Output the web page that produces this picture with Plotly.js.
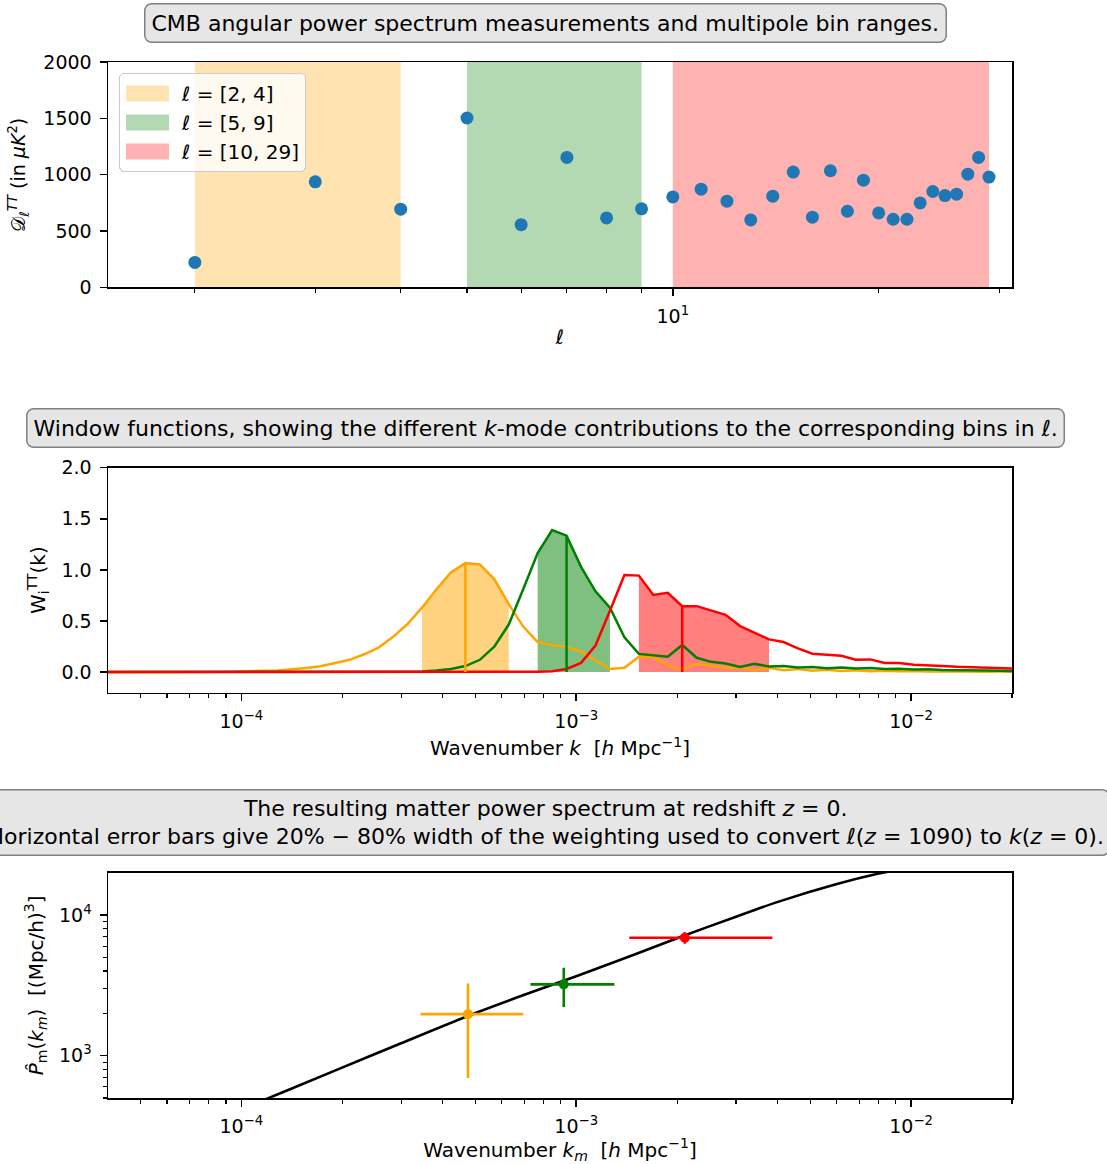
<!DOCTYPE html>
<html>
<head>
<meta charset="utf-8">
<script src="https://cdn.plot.ly/plotly-3.0.1.min.js"></script>
<style>
  html, body { margin: 0; padding: 0; background: #ffffff; }
  #chart { width: 1107px; height: 1164px; }
</style>
</head>
<body>
<div id="chart"></div>
<script>
// ---------- Panel 1: CMB angular power spectrum ----------
const ell = [2,3,4,5,6,7,8,9,10,11,12,13,14,15,16,17,18,19,20,21,22,23,24,25,26,27,28,29];
const DlTT = [222,937,694,1503,557,1153,617,697,803,872,765,599,810,1023,623,1035,676,952,661,605,605,750,851,815,827,1005,1153,979];
const binLo = [2, 5, 10];
const binHi = [4, 9, 29];
const binNames = ['<i>ℓ</i> = [2, 4]', '<i>ℓ</i> = [5, 9]', '<i>ℓ</i> = [10, 29]'];
const binSpanColors = ['rgba(255,165,0,0.3)', 'rgba(0,128,0,0.3)', 'rgba(255,0,0,0.3)'];
const DlRange = [0, 2000];
const DlTicks = [0, 500, 1000, 1500, 2000];

// ---------- Panel 2: window functions ----------
const kGrid = [3.5e-5, 6.4e-5, 9.5e-5, 1.282e-4, 1.416e-4, 1.564e-4, 1.7274e-4, 1.9079e-4, 2.1073e-4,
  2.3275e-4, 2.5707e-4, 2.8393e-4, 3.136e-4, 3.4637e-4, 3.8257e-4, 4.2254e-4, 4.667e-4, 5.155e-4,
  5.693e-4, 6.288e-4, 6.945e-4, 7.671e-4, 8.473e-4, 9.358e-4, 1.0336e-3, 1.1416e-3, 1.2609e-3,
  1.3927e-3, 1.5382e-3, 1.6989e-3, 1.8765e-3, 2.0726e-3, 2.2892e-3, 2.5284e-3, 2.7926e-3, 3.0844e-3,
  3.4068e-3, 3.7628e-3, 4.156e-3, 4.5903e-3, 5.07e-3, 5.5998e-3, 6.185e-3, 6.8314e-3, 7.5453e-3,
  8.3338e-3, 9.2047e-3, 1.0167e-2, 1.1229e-2, 1.2403e-2, 1.3699e-2, 1.513e-2, 1.6711e-2, 1.8458e-2, 2.0387e-2];
const wBin1 = [0, 0, 0.004, 0.016, 0.026, 0.040, 0.058, 0.087, 0.12, 0.174, 0.24, 0.345, 0.47, 0.63, 0.81,
  0.975, 1.066, 1.052, 0.91, 0.665, 0.445, 0.294, 0.263, 0.248, 0.20, 0.115, 0.03, 0.042, 0.15, 0.144,
  0.065, 0.026, 0.083, 0.06, 0.04, 0.045, 0.015, 0.042, 0.017, 0.03, 0.012, 0.022, 0.01, 0.018, 0.008,
  0.014, 0.007, 0.011, 0.006, 0.009, 0.005, 0.007, 0.004, 0.005, 0.004];
const wBin2 = [0, 0, 0, 0, 0, 0, 0, 0, 0, 0, 0, 0.001, 0.003, 0.006, 0.015, 0.03, 0.059, 0.12, 0.248,
  0.465, 0.81, 1.165, 1.39, 1.335, 1.03, 0.79, 0.63, 0.34, 0.178, 0.167, 0.15, 0.265, 0.14, 0.10, 0.083,
  0.05, 0.08, 0.055, 0.06, 0.045, 0.05, 0.038, 0.045, 0.035, 0.04, 0.03, 0.033, 0.025, 0.027, 0.02,
  0.02, 0.016, 0.015, 0.012, 0.011];
const wBin3 = [0, 0, 0, 0, 0, 0, 0, 0, 0, 0, 0, 0, 0, 0, 0, 0, 0, 0, 0, 0, 0, 0.003, 0.008, 0.03, 0.09,
  0.26, 0.6, 0.95, 0.944, 0.755, 0.775, 0.644, 0.645, 0.6, 0.56, 0.45, 0.385, 0.32, 0.294, 0.232, 0.18,
  0.17, 0.16, 0.12, 0.124, 0.088, 0.088, 0.072, 0.068, 0.06, 0.052, 0.047, 0.042, 0.038, 0.035];
const kMedian = [4.667e-4, 9.358e-4, 2.0726e-3];
const fillLo = [3.4e-4, 7.6e-4, 1.53e-3];
const fillHi = [6.3e-4, 1.27e-3, 3.77e-3];
const binLineColors = ['#FFA500', '#008000', '#FF0000'];
const binFillColors = ['rgba(255,165,0,0.5)', 'rgba(0,128,0,0.5)', 'rgba(255,0,0,0.5)'];

// ---------- Panel 3: matter power spectrum ----------
const kCurve = [4e-5, 1e-4, 2e-4, 3e-4, 5e-4, 7e-4, 1e-3, 1.5e-3, 2e-3, 3e-3, 4e-3, 6e-3, 8e-3, 1e-2, 1.5e-2, 2e-2];
const PCurve = [168, 415, 822, 1225, 2010, 2710, 3673, 5260, 6840, 9730, 12400, 16600, 19700, 21900, 25300, 27000];
const kPoint = [4.75e-4, 9.18e-4, 2.11e-3];
const PPoint = [1973, 3214, 6887];
const kErrLo = [3.43e-4, 7.3e-4, 1.44e-3];
const kErrHi = [6.95e-4, 1.30e-3, 3.85e-3];
const PErr = [1280, 1000, 650];

const kTickVals = [1e-4, 1e-3, 1e-2];
const kTickText = ['10<sup>−4</sup>', '10<sup>−3</sup>', '10<sup>−2</sup>'];
const kMinor = [5e-5,6e-5,7e-5,8e-5,9e-5,2e-4,3e-4,4e-4,5e-4,6e-4,7e-4,8e-4,9e-4,2e-3,3e-3,4e-3,5e-3,6e-3,7e-3,8e-3,9e-3,2e-2];
const PTickVals = [1000, 10000];
const PTickText = ['10<sup>3</sup>', '10<sup>4</sup>'];
const PMinor = [500,600,700,800,900,2000,3000,4000,5000,6000,7000,8000,9000];

// ---------- traces ----------
const FONT = 'DejaVu Sans, Verdana, sans-serif';
const data = [];

// Panel 1 spans (legend entries)
for (let i = 0; i < binLo.length; i++) {
  data.push({
    type: 'scatter', mode: 'none', xaxis: 'x', yaxis: 'y',
    x: [binLo[i], binHi[i], binHi[i], binLo[i], binLo[i]],
    y: [DlRange[0], DlRange[0], DlRange[1], DlRange[1], DlRange[0]],
    fill: 'toself', fillcolor: binSpanColors[i], line: {width: 0},
    name: binNames[i], showlegend: true, hoverinfo: 'skip'
  });
}
data.push({
  type: 'scatter', mode: 'markers', xaxis: 'x', yaxis: 'y',
  x: ell, y: DlTT, marker: {color: '#1f77b4', size: 13}, showlegend: false
});

// Panel 2 fills
const wBins = [wBin1, wBin2, wBin3];
for (let i = 0; i < 3; i++) {
  const fx = [], fy = [];
  kGrid.forEach((k, j) => { if (k >= fillLo[i] && k <= fillHi[i]) { fx.push(k); fy.push(wBins[i][j]); } });
  data.push({
    type: 'scatter', mode: 'none', xaxis: 'x2', yaxis: 'y2',
    x: fx, y: fy, fill: 'tozeroy', fillcolor: binFillColors[i], line: {width: 0},
    showlegend: false, hoverinfo: 'skip'
  });
}
// Panel 2 curves
for (let i = 0; i < 3; i++) {
  data.push({
    type: 'scatter', mode: 'lines', xaxis: 'x2', yaxis: 'y2',
    x: kGrid, y: wBins[i], line: {color: binLineColors[i], width: 2.5}, showlegend: false
  });
}
// Panel 2 median lines
for (let i = 0; i < 3; i++) {
  let best = 0;
  kGrid.forEach((k, j) => { if (Math.abs(Math.log(k / kMedian[i])) < Math.abs(Math.log(kGrid[best] / kMedian[i]))) best = j; });
  data.push({
    type: 'scatter', mode: 'lines', xaxis: 'x2', yaxis: 'y2',
    x: [kMedian[i], kMedian[i]], y: [0, wBins[i][best]],
    line: {color: binLineColors[i], width: 2.5}, showlegend: false
  });
}

// Panel 3 curve
data.push({
  type: 'scatter', mode: 'lines', xaxis: 'x3', yaxis: 'y3',
  x: kCurve, y: PCurve, line: {color: '#000000', width: 2.6, shape: 'spline', smoothing: 0.8}, showlegend: false
});
// Panel 3 points
for (let i = 0; i < 3; i++) {
  data.push({
    type: 'scatter', mode: 'markers', xaxis: 'x3', yaxis: 'y3',
    x: [kPoint[i]], y: [PPoint[i]],
    marker: {color: binLineColors[i], size: 10},
    error_x: {type: 'data', symmetric: false, array: [kErrHi[i] - kPoint[i]], arrayminus: [kPoint[i] - kErrLo[i]],
      color: binLineColors[i], thickness: 2.6, width: 0},
    error_y: {type: 'data', symmetric: true, array: [PErr[i]], color: binLineColors[i], thickness: 2.6, width: 0},
    showlegend: false
  });
}

// ---------- layout ----------
const axisBase = {
  showline: true, mirror: true, linecolor: '#000000', linewidth: 1.5,
  showgrid: false, zeroline: false,
  ticks: 'outside', ticklen: 7, tickwidth: 1.5, tickcolor: '#000000',
  ticklabelstandoff: 4,
  tickfont: {family: FONT, size: 19, color: '#000000'}
};
const minorBase = {ticks: 'outside', ticklen: 4, tickwidth: 1.1, tickcolor: '#000000', tickmode: 'array'};
function ax(extra) { return Object.assign({}, axisBase, extra); }

const layout = {
  width: 1107, height: 1164,
  margin: {l: 108, r: 95, t: 62, b: 66},
  paper_bgcolor: '#ffffff', plot_bgcolor: '#ffffff',
  font: {family: FONT, color: '#000000'},
  showlegend: true,
  legend: {
    x: 0.0122, y: 0.9894, xanchor: 'left', yanchor: 'top',
    bgcolor: 'rgba(255,255,255,0.8)', bordercolor: '#cccccc', borderwidth: 1,
    font: {family: FONT, size: 20, color: '#000000'}, itemwidth: 52, tracegroupgap: 0
  },
  xaxis: ax({
    anchor: 'y', domain: [0, 1], type: 'log', range: [0.174, 1.496],
    tickmode: 'array', tickvals: [10], ticktext: ['10<sup>1</sup>'],
    minor: Object.assign({tickvals: [2,3,4,5,6,7,8,9,20,30]}, minorBase),
    title: {text: '<i>ℓ</i>', font: {family: FONT, size: 20}, standoff: 4}
  }),
  yaxis: ax({
    anchor: 'x', domain: [0.7824, 1], range: DlRange,
    tickmode: 'array', tickvals: DlTicks,
    title: {text: '𝒟<sub><i>ℓ</i></sub><sup><i>TT</i></sup> (in <i>μK</i><sup>2</sup>)', font: {family: FONT, size: 19}, standoff: 12}
  }),
  xaxis2: ax({
    anchor: 'y2', domain: [0, 1], type: 'log', range: [Math.log10(4e-5), Math.log10(2e-2)],
    tickmode: 'array', tickvals: kTickVals, ticktext: kTickText,
    minor: Object.assign({tickvals: kMinor}, minorBase),
    title: {text: 'Wavenumber <i>k</i>  [<i>h</i> Mpc<sup>−1</sup>]', font: {family: FONT, size: 20}, standoff: 10}
  }),
  yaxis2: ax({
    anchor: 'x2', domain: [0.3914, 0.6084], range: [-0.2, 2.0],
    tickmode: 'array', tickvals: [0, 0.5, 1, 1.5, 2], tickformat: '.1f',
    title: {text: 'W<sub>i</sub><sup>TT</sup>(k)', font: {family: FONT, size: 20}, standoff: 10}
  }),
  xaxis3: ax({
    anchor: 'y3', domain: [0, 1], type: 'log', range: [Math.log10(4e-5), Math.log10(2e-2)],
    tickmode: 'array', tickvals: kTickVals, ticktext: kTickText,
    minor: Object.assign({tickvals: kMinor}, minorBase),
    title: {text: 'Wavenumber <i>k<sub>m</sub></i>  [<i>h</i> Mpc<sup>−1</sup>]', font: {family: FONT, size: 20}, standoff: 10}
  }),
  yaxis3: ax({
    anchor: 'x3', domain: [0, 0.2175], type: 'log', range: [Math.log10(500), Math.log10(20000)],
    tickmode: 'array', tickvals: PTickVals, ticktext: PTickText,
    minor: Object.assign({tickvals: PMinor}, minorBase),
    title: {text: '<i>P̂</i><sub>m</sub>(<i>k<sub>m</sub></i>)  [(Mpc/h)<sup>3</sup>]', font: {family: FONT, size: 20}, standoff: 10}
  }),
  annotations: [
    {text: 'CMB angular power spectrum measurements and multipole bin ranges.',
     xref: 'paper', yref: 'paper', x: 0.484, y: 1.0376, xanchor: 'center', yanchor: 'middle', showarrow: false,
     font: {family: FONT, size: 22, color: '#000000'}, bgcolor: '#e6e6e6', bordercolor: '#808080', borderwidth: 1.5, borderpad: 6},
    {text: 'Window functions, showing the different <i>k</i>-mode contributions to the corresponding bins in <i>ℓ</i>.',
     xref: 'paper', yref: 'paper', x: 0.484, y: 0.6467, xanchor: 'center', yanchor: 'middle', showarrow: false,
     font: {family: FONT, size: 22, color: '#000000'}, bgcolor: '#e6e6e6', bordercolor: '#808080', borderwidth: 1.5, borderpad: 6},
    {text: 'The resulting matter power spectrum at redshift <i>z</i> = 0.<br>Horizontal error bars give 20% − 80% width of the weighting used to convert <i>ℓ</i>(<i>z</i> = 1090) to <i>k</i>(<i>z</i> = 0).',
     xref: 'paper', yref: 'paper', x: 0.484, y: 0.2664, xanchor: 'center', yanchor: 'middle', showarrow: false,
     font: {family: FONT, size: 22, color: '#000000'}, bgcolor: '#e6e6e6', bordercolor: '#808080', borderwidth: 1.5, borderpad: 5}
  ]
};

Plotly.newPlot('chart', data, layout, {staticPlot: true, displayModeBar: false}).then(function (gd) {
  gd.querySelectorAll('.annotation rect.bg').forEach(function (r) { r.setAttribute('rx', 7); r.setAttribute('ry', 7); });
  const lb = gd.querySelector('.legend rect.bg');
  if (lb) { lb.setAttribute('rx', 5); lb.setAttribute('ry', 5); }
  gd.querySelectorAll('.legend .legendfill path').forEach(function (p) { p.setAttribute('d', 'M6,-8h43v16h-43z'); });
});
</script>
</body>
</html>
